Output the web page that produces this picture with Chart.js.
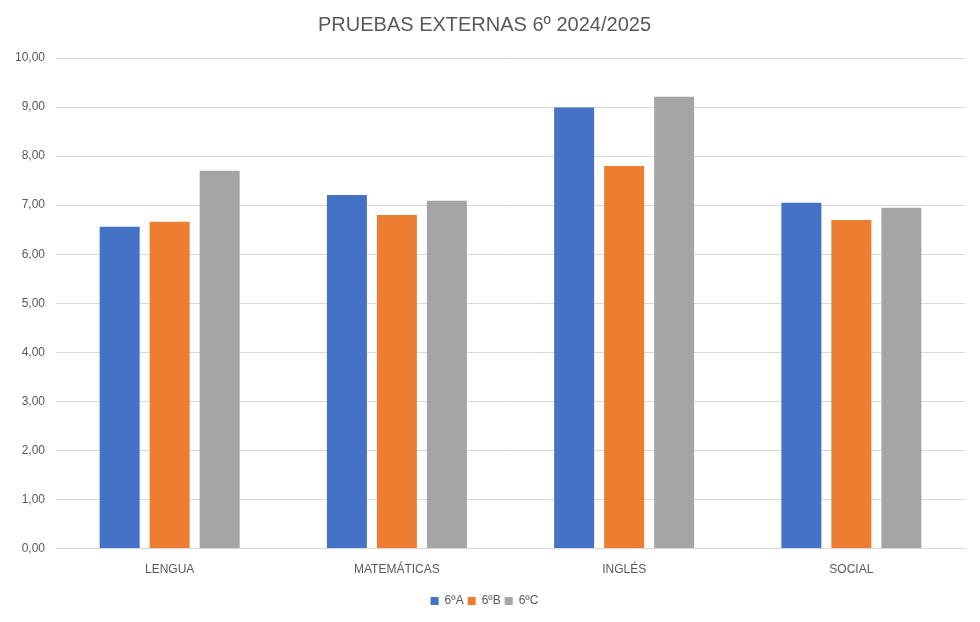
<!DOCTYPE html>
<html>
<head>
<meta charset="utf-8">
<script src="https://cdn.jsdelivr.net/npm/chart.js@4"></script>
<style>
  html, body { margin: 0; padding: 0; background: #fff; }
  #wrap { width: 980px; height: 622px; }
</style>
</head>
<body>
<div id="wrap"><canvas id="grafico" width="980" height="622"></canvas></div>
<script>
// Datos del gráfico
const asignaturas = ["LENGUA", "MATEMÁTICAS", "INGLÉS", "SOCIAL"];
const grupos = ["6ºA", "6ºB", "6ºC"];
const notas6A = [6.56, 7.21, 8.99, 7.05];
const notas6B = [6.66, 6.80, 7.80, 6.70];
const notas6C = [7.70, 7.09, 9.21, 6.95];
const colores = ["#4472C4", "#ED7D31", "#A5A5A5"];

const fuente = "'Liberation Sans', Arial, sans-serif";
const gris = "#595959";

const ctx = document.getElementById("grafico").getContext("2d");

new Chart(ctx, {
    type: "bar",
    data: {
        labels: asignaturas,
        datasets: [notas6A, notas6B, notas6C].map((serie, i) => ({
            label: grupos[i],
            data: serie,
            backgroundColor: colores[i],
            borderWidth: 0,
            categoryPercentage: 0.66,
            barPercentage: 0.8
        }))
    },
    options: {
        responsive: false,
        animation: false,
        layout: { padding: { left: 4, right: 15, top: 6, bottom: 5 } },
        plugins: {
            title: {
                display: true,
                text: "PRUEBAS EXTERNAS 6º 2024/2025",
                color: gris,
                font: { family: fuente, size: 20, weight: "normal" },
                padding: { top: 7, bottom: 21 }
            },
            legend: {
                position: "bottom",
                labels: {
                    color: gris,
                    font: { family: fuente, size: 12 },
                    boxWidth: 8,
                    boxHeight: 8,
                    padding: 4
                }
            },
            tooltip: { enabled: false }
        },
        scales: {
            x: {
                grid: { display: false },
                border: { color: "#D9D9D9" },
                ticks: { color: gris, font: { family: fuente, size: 12 }, padding: 6 },
                // espacio extra entre etiquetas y leyenda
                afterFit: scale => { scale.height += 8; }
            },
            y: {
                min: 0,
                max: 10,
                border: { display: false },
                grid: { color: "#D9D9D9", drawTicks: false },
                ticks: {
                    stepSize: 1,
                    color: gris,
                    padding: 11,
                    font: { family: fuente, size: 12 },
                    callback: v => v.toFixed(2).replace(".", ",")
                }
            }
        }
    }
});
</script>
</body>
</html>
